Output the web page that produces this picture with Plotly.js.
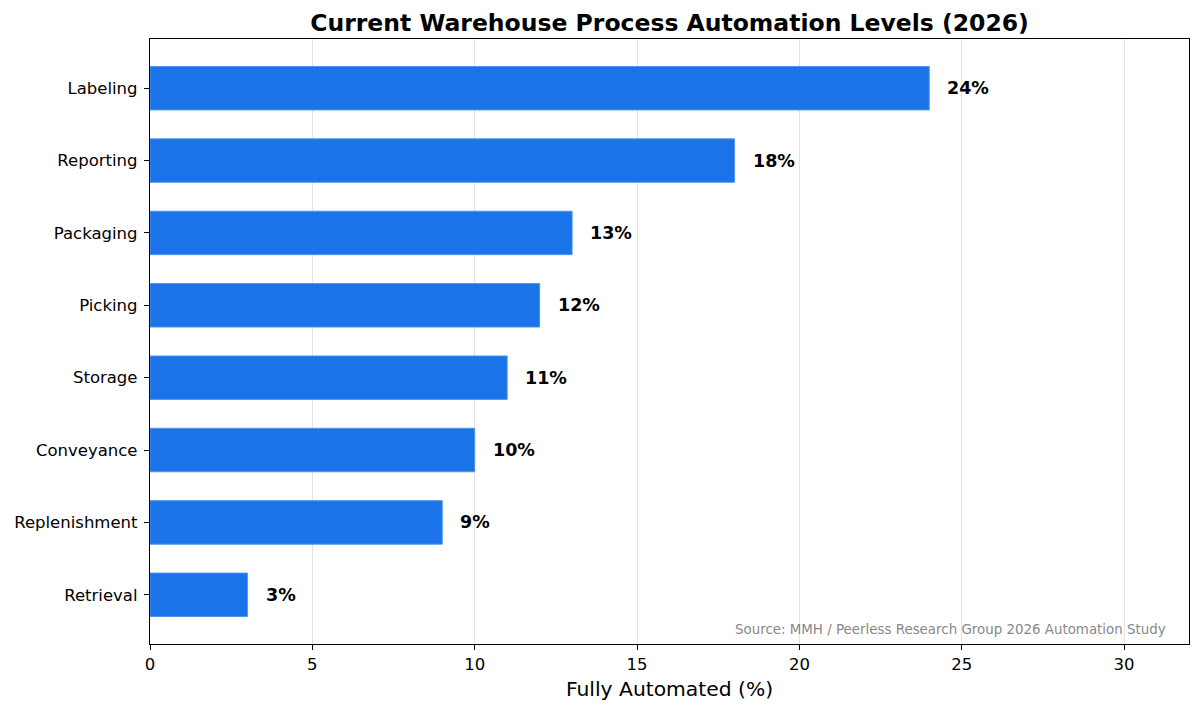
<!DOCTYPE html>
<html>
<head>
<meta charset="utf-8">
<script src="https://cdn.plot.ly/plotly-3.0.1.min.js"></script>
<style>
  body { margin: 0; background: #fff; }
  #chart { width: 1200px; height: 711px; }
</style>
</head>
<body>
<div id="chart"></div>
<script>
// processes, bottom to top as drawn
var processes = ['Retrieval', 'Replenishment', 'Conveyance', 'Storage', 'Picking', 'Packaging', 'Reporting', 'Labeling'];
var automated = [3, 9, 10, 11, 12, 13, 18, 24];
var xTicks = [0, 5, 10, 15, 20, 25, 30];

var font = 'DejaVu Sans, Liberation Sans, sans-serif';

var trace = {
  x: automated,
  y: processes,
  type: 'bar',
  orientation: 'h',
  width: 0.6,
  marker: {
    color: '#1a73e8',
    line: { color: '#4d94ee', width: 1 }
  },
  hoverinfo: 'skip'
};

// value labels just past each bar end
var labels = automated.map(function (v, i) {
  return {
    x: v + 0.5, y: processes[i],
    xref: 'x', yref: 'y',
    text: v + '%',
    showarrow: false,
    xanchor: 'left', yanchor: 'middle',
    font: { family: font, size: 17.5, color: '#000', weight: 'bold' }
  };
});

labels.push({
  x: 0.98, y: 0.008, xref: 'paper', yref: 'paper',
  xanchor: 'right', yanchor: 'bottom',
  text: 'Source: MMH / Peerless Research Group 2026 Automation Study',
  showarrow: false,
  font: { family: font, size: 13.4, color: '#888' }
});

var layout = {
  width: 1200,
  height: 711,
  margin: { l: 150, r: 11, t: 39, b: 67 },
  paper_bgcolor: '#fff',
  plot_bgcolor: '#fff',
  font: { family: font, color: '#000' },
  title: {
    text: '<b>Current Warehouse Process Automation Levels (2026)</b>',
    font: { family: font, size: 23.5, color: '#000' },
    x: 0.5, xref: 'paper', xanchor: 'center',
    y: 1, yref: 'paper', yanchor: 'bottom', pad: { b: 8 }
  },
  xaxis: {
    range: [0, 32],
    tickvals: xTicks,
    ticks: 'outside', ticklen: 5, tickcolor: '#000', tickwidth: 1,
    tickfont: { family: font, size: 16.5, color: '#000' },
    showgrid: true, gridcolor: '#e3e3e3', gridwidth: 1,
    zeroline: false,
    showline: true, linecolor: '#000', linewidth: 1.2, mirror: true,
    title: { text: 'Fully Automated (%)', font: { family: font, size: 20.3, color: '#000' }, standoff: 8 }
  },
  yaxis: {
    type: 'category',
    categoryorder: 'array',
    categoryarray: processes,
    range: [-0.68, 7.68],
    ticks: 'outside', ticklen: 5, tickcolor: '#000', tickwidth: 1,
    ticklabelstandoff: 3,
    tickfont: { family: font, size: 16.5, color: '#000' },
    showgrid: false,
    zeroline: false,
    showline: true, linecolor: '#000', linewidth: 1.2, mirror: true
  },
  annotations: labels,
  showlegend: false
};

Plotly.newPlot('chart', [trace], layout, { displayModeBar: false, staticPlot: true });
</script>
</body>
</html>
